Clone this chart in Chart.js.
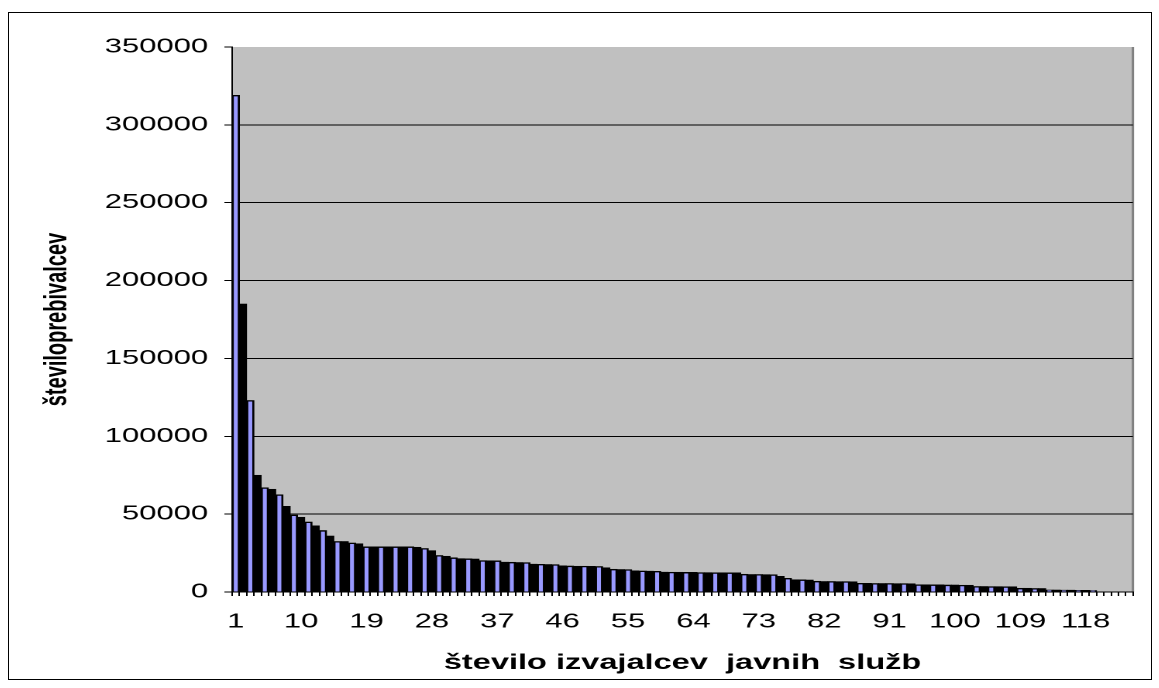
<!DOCTYPE html>
<html lang="sl">
<head>
    <meta charset="UTF-8">
    <title>Število prebivalcev po izvajalcih javnih služb</title>
    <script src="https://cdn.jsdelivr.net/npm/chart.js"></script>
    <style>
        body {
            margin: 0;
            background: #fff;
        }

        .frame {
            position: absolute;
            left: 8px;
            top: 12px;
            width: 1144px;
            height: 668px;
            box-sizing: border-box;
            border: 1px solid #000;
        }
    </style>
</head>
<body>
    <div class="frame">
        <!-- the original picture is stretched sideways, so the canvas is too -->
        <canvas id="chart" width="737" height="666" style="width:1142px;height:666px"></canvas>
    </div>

    <script>
        const categories = Array.from({ length: 124 }, (_, i) => String(i + 1));

        const tickLabels = ['1', '10', '19', '28', '37', '46', '55', '64', '73', '82', '91', '100', '109', '118'];

        const residents = [
            319000, 185000, 123000, 75000, 67000, 66000, 62500, 55000, 49500, 48000,
            45000, 42500, 39500, 36000, 32500, 32500, 31500, 31000, 29000, 29000,
            29000, 29000, 29000, 29000, 29000, 28800, 28000, 26600, 23500, 23000,
            22000, 21500, 21300, 21200, 20200, 20100, 20000, 19200, 19100, 19000,
            18900, 17900, 17800, 17700, 17600, 16800, 16700, 16600, 16600, 16500,
            16400, 15600, 14600, 14500, 14400, 13600, 13500, 13400, 13300, 12800,
            12700, 12700, 12600, 12600, 12500, 12500, 12400, 12400, 12300, 12300,
            11400, 11300, 11300, 11200, 11100, 10100, 8800, 7900, 7800, 7700,
            6900, 6800, 6800, 6700, 6700, 6600, 5600, 5600, 5500, 5500,
            5500, 5400, 5400, 5300, 4700, 4700, 4600, 4600, 4500, 4500,
            4400, 4400, 3600, 3600, 3500, 3500, 3400, 3400, 2400, 2400,
            2300, 2300, 1300, 1300, 1200, 1200, 1100, 1100, 1000, 0,
            0, 0, 0, 0
        ];

        const yTicks = [0, 50000, 100000, 150000, 200000, 250000, 300000, 350000];

        const FONT = "'Liberation Sans', Arial, sans-serif";

        // grey plot area with a grey edge on the right
        const plotBackground = {
            id: 'plotBackground',
            beforeDraw(chart) {
                const { ctx, chartArea: a } = chart;
                ctx.save();
                ctx.fillStyle = '#C0C0C0';
                ctx.fillRect(a.left, a.top, a.width, a.height);
                ctx.strokeStyle = '#808080';
                ctx.lineWidth = 1.5;
                ctx.beginPath();
                ctx.moveTo(a.right, a.top);
                ctx.lineTo(a.right, a.bottom);
                ctx.stroke();
                ctx.restore();
            }
        };

        new Chart(document.getElementById('chart'), {
            type: 'bar',
            data: {
                labels: categories,
                datasets: [{
                    data: residents,
                    backgroundColor: c => c.dataIndex % 2 ? '#000000' : '#9999FF',
                    borderColor: '#000000',
                    borderWidth: 1.4,
                    barPercentage: 1,
                    categoryPercentage: 1
                }]
            },
            options: {
                responsive: false,
                devicePixelRatio: 2,
                animation: false,
                layout: {
                    padding: { left: 0, right: 4, top: 34, bottom: 0 }
                },
                plugins: {
                    legend: { display: false },
                    tooltip: { enabled: false }
                },
                scales: {
                    x: {
                        afterFit: s => { s.height = 87; },
                        grid: {
                            drawOnChartArea: false,
                            drawTicks: true,
                            tickLength: 4,
                            tickColor: '#000'
                        },
                        border: { color: '#000', width: 1 },
                        ticks: {
                            autoSkip: false,
                            maxRotation: 0,
                            padding: 14,
                            color: '#000',
                            font: { family: FONT, size: 20 },
                            callback: (v, i) => tickLabels.includes(categories[i]) ? categories[i] : ''
                        },
                        title: {
                            display: true,
                            text: 'število izvajalcev  javnih  služb',
                            color: '#000',
                            font: { family: FONT, size: 21, weight: 'bold' },
                            padding: { top: 0, bottom: 3 }
                        }
                    },
                    y: {
                        min: 0,
                        max: 350000,
                        afterFit: s => { s.width = 144; },
                        afterBuildTicks: s => { s.ticks = yTicks.map(v => ({ value: v })); },
                        grid: {
                            color: c => c.tick && c.tick.value === 350000 ? 'rgba(0,0,0,0)' : '#000',
                            tickColor: '#000',
                            tickLength: 5
                        },
                        border: { color: '#000', width: 1 },
                        ticks: {
                            padding: 10.5,
                            color: '#000',
                            font: { family: FONT, size: 20 },
                            callback: v => String(v)
                        },
                        title: {
                            display: true,
                            text: 'številoprebivalcev',
                            color: '#000',
                            font: { family: FONT, size: 20, weight: 'bold' },
                            padding: { top: 19.5, bottom: 0 }
                        }
                    }
                }
            },
            plugins: [plotBackground]
        });
    </script>
</body>
</html>
